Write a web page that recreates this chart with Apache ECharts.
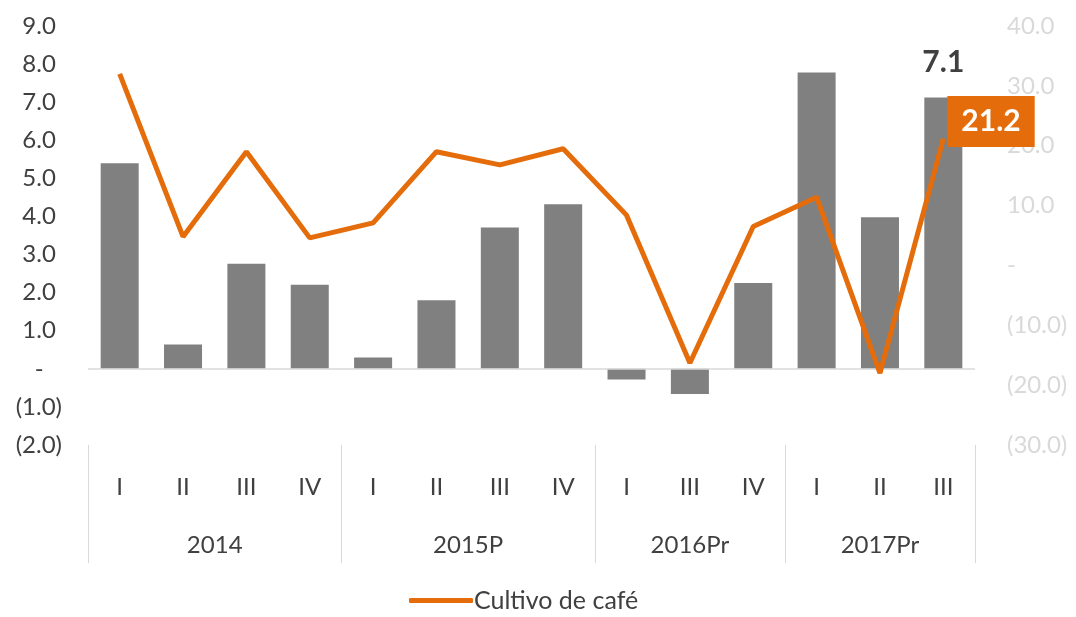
<!DOCTYPE html>
<html><head><meta charset="utf-8">
<script src="https://cdn.jsdelivr.net/npm/echarts@6/dist/echarts.min.js"></script>
<style>html,body{margin:0;padding:0;background:#fff}#c{width:1076px;height:617px}</style>
</head><body><div id="c"></div>
<script>
const quarters = ['I','II','III','IV','I','II','III','IV','I','III','IV','I','II','III'];
const years = ['2014','2015P','2016Pr','2017Pr'];
const yearCenters = [2, 6, 9.5, 12.5];
const yearBounds = [0, 4, 8, 11, 14];
const barValues = [5.4, 0.64, 2.76, 2.21, 0.3, 1.8, 3.71, 4.32, -0.28, -0.66, 2.25, 7.78, 3.98, 7.12];
const lineValues = [32.0, 4.8, 19.0, 4.6, 7.1, 19.0, 16.8, 19.5, 8.4, -16.3, 6.5, 11.4, -18.0, 21.2];
const lineName = 'Cultivo de café';

const FONT = 'Lato';
const ORANGE = '#E46C0A';
const last = barValues.length - 1;
const barData = barValues.map((v, i) => i === last ? {
  value: v,
  label: {show: true, position: 'top', distance: 20, formatter: p => p.value.toFixed(1),
    fontFamily: FONT, fontSize: 30, fontWeight: 'bold', color: '#404040'}
} : v);
const lineData = lineValues.map((v, i) => i === last ? {
  value: v,
  label: {show: true, position: 'right', distance: 4, offset: [0, -17], formatter: p => p.value.toFixed(1),
    fontFamily: FONT, fontSize: 30, fontWeight: 'bold', color: '#fff',
    backgroundColor: ORANGE, padding: [11, 14, 10, 14]}
} : v);

const leftFmt = v => {
  if (Math.abs(v) < 1e-9) return '-   ';
  if (v < 0) return '(' + Math.abs(v).toFixed(1) + ')';
  return v.toFixed(1) + ' ';
};
const rightFmt = v => {
  if (Math.abs(v) < 1e-9) return '-';
  if (v < 0) return '(' + Math.abs(v).toFixed(1) + ')';
  return v.toFixed(1);
};

const chart = echarts.init(document.getElementById('c'));
chart.setOption({
  animation: false,
  textStyle: {fontFamily: FONT},
  grid: {left: 88, right: 101, top: 26, bottom: 172, containLabel: false},
  legend: {
    data: [{name: lineName, icon: 'roundRect'}], bottom: -1, left: 404, itemWidth: 64, itemHeight: 5, itemGap: 5,
    textStyle: {fontFamily: FONT, fontSize: 25, color: '#404040', padding: [0,0,0,-4]}
  },
  xAxis: [
    {type: 'category', data: quarters, axisLine: {show: false, onZero: false}, axisTick: {show: false},
     axisLabel: {margin: 30, fontSize: 24, color: '#404040', fontFamily: FONT}},
    {type: 'value', min: 0, max: 14, position: 'bottom', axisLine: {show: false, onZero: false}, splitLine: {show: false},
     axisTick: {show: true, customValues: yearBounds, length: 118, lineStyle: {color: '#d9d9d9', width: 1}},
     axisLabel: {customValues: yearCenters, margin: 88, fontSize: 24, color: '#404040', fontFamily: FONT,
       formatter: v => years[yearCenters.indexOf(v)] || ''}}
  ],
  yAxis: [
    {type: 'value', min: -2, max: 9, interval: 1, splitLine: {show: false}, axisLine: {show: false}, axisTick: {show: false},
     axisLabel: {formatter: leftFmt, fontSize: 24, color: '#404040', margin: 26, fontFamily: FONT}},
    {type: 'value', min: -30, max: 40, interval: 10, splitLine: {show: false}, axisLine: {show: false}, axisTick: {show: false},
     axisLabel: {formatter: rightFmt, fontSize: 24, color: '#d9d9d9', margin: 32, fontFamily: FONT}}
  ],
  series: [
    {name: 'PIB', type: 'bar', xAxisIndex: 0, yAxisIndex: 0, data: barData, barWidth: '60%',
     itemStyle: {color: '#808080'},
     markLine: {silent: true, symbol: 'none', label: {show: false},
       lineStyle: {color: '#d9d9d9', type: 'solid', width: 1.5}, data: [{yAxis: 0}]}},
    {name: lineName, type: 'line', xAxisIndex: 0, yAxisIndex: 1, data: lineData, showSymbol: true,
     symbol: 'circle', symbolSize: 0.1,
     lineStyle: {color: ORANGE, width: 5}, itemStyle: {color: ORANGE}, z: 5}
  ]
});
</script></body></html>
